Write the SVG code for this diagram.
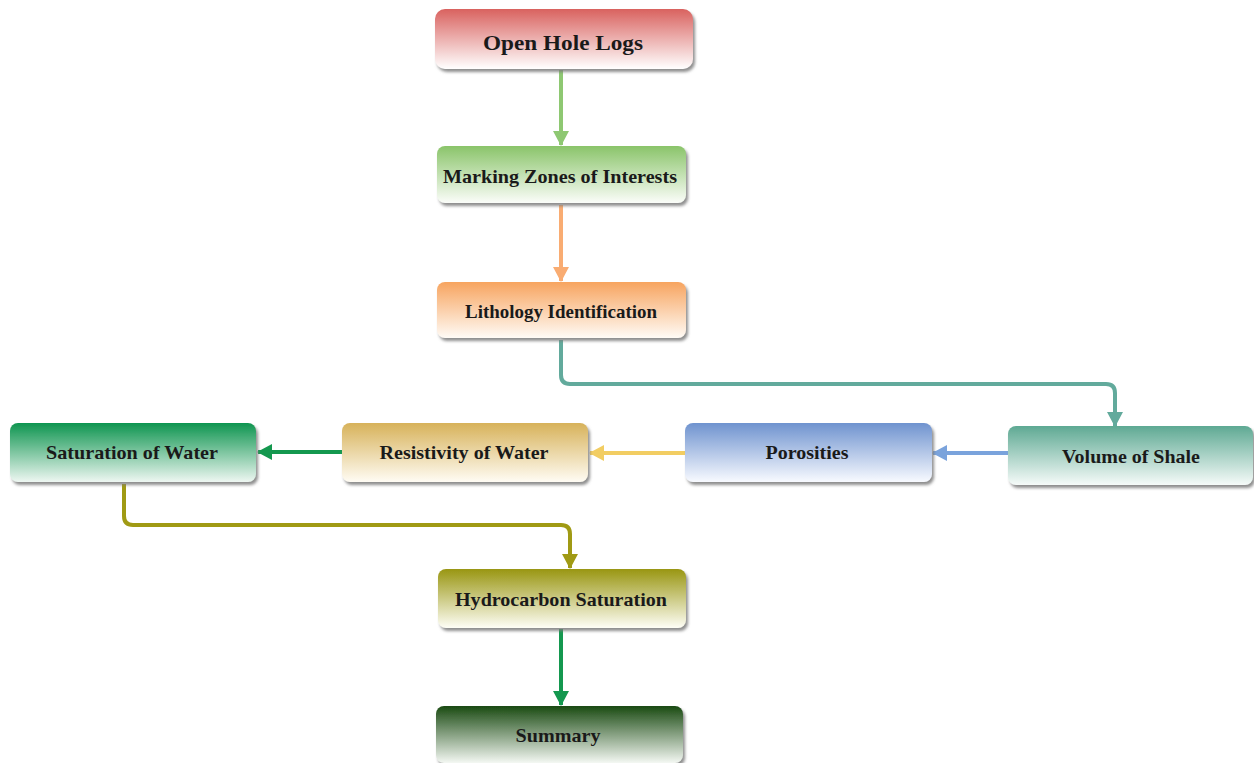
<svg xmlns="http://www.w3.org/2000/svg" width="1254" height="763" viewBox="0 0 1254 763">
  <defs>
    <style>
      .box { stroke: none; filter: url(#shadow); }
      .lbl { font-family: "Liberation Serif", "Times New Roman", serif; font-weight: bold; font-size: 19px; fill: #1a1a1a; text-anchor: middle; dominant-baseline: central; }
      .big { font-size: 22px; }
      .wire { fill: none; stroke-width: 4; stroke-linejoin: round; }
    </style>
    <filter id="shadow" x="-5%" y="-10%" width="115%" height="130%">
      <feDropShadow dx="2" dy="3" stdDeviation="1.4" flood-color="#7a7a7a" flood-opacity="0.85"/>
    </filter>
    <linearGradient id="gRed" x1="0" y1="0" x2="0" y2="1">
      <stop offset="0" stop-color="#d9625f"/><stop offset="1" stop-color="#ffffff"/>
    </linearGradient>
    <linearGradient id="gLime" x1="0" y1="0" x2="0" y2="1">
      <stop offset="0" stop-color="#8ac46a"/><stop offset="1" stop-color="#fbfdf9"/>
    </linearGradient>
    <linearGradient id="gOrange" x1="0" y1="0" x2="0" y2="1">
      <stop offset="0" stop-color="#f7a45f"/><stop offset="1" stop-color="#fffbf6"/>
    </linearGradient>
    <linearGradient id="gGreen" x1="0" y1="0" x2="0" y2="1">
      <stop offset="0" stop-color="#0f9550"/><stop offset="1" stop-color="#eef7f2"/>
    </linearGradient>
    <linearGradient id="gGold" x1="0" y1="0" x2="0" y2="1">
      <stop offset="0" stop-color="#d7b25a"/><stop offset="1" stop-color="#fffcf4"/>
    </linearGradient>
    <linearGradient id="gBlue" x1="0" y1="0" x2="0" y2="1">
      <stop offset="0" stop-color="#6f93cf"/><stop offset="1" stop-color="#f8faff"/>
    </linearGradient>
    <linearGradient id="gTeal" x1="0" y1="0" x2="0" y2="1">
      <stop offset="0" stop-color="#5ea993"/><stop offset="1" stop-color="#f6fbf9"/>
    </linearGradient>
    <linearGradient id="gOlive" x1="0" y1="0" x2="0" y2="1">
      <stop offset="0" stop-color="#999612"/><stop offset="1" stop-color="#fefef6"/>
    </linearGradient>
    <linearGradient id="gForest" x1="0" y1="0" x2="0" y2="1">
      <stop offset="0" stop-color="#1a4a12"/><stop offset="1" stop-color="#f4f8f3"/>
    </linearGradient>

    <marker id="aLime" markerUnits="userSpaceOnUse" markerWidth="18" markerHeight="18" refX="14" refY="8" orient="auto">
      <path d="M0,0 L15,8 L0,16 z" fill="#8ec872"/>
    </marker>
    <marker id="aOrange" markerUnits="userSpaceOnUse" markerWidth="18" markerHeight="18" refX="14" refY="8" orient="auto">
      <path d="M0,0 L15,8 L0,16 z" fill="#f9ac72"/>
    </marker>
    <marker id="aTeal" markerUnits="userSpaceOnUse" markerWidth="18" markerHeight="18" refX="14" refY="8" orient="auto">
      <path d="M0,0 L15,8 L0,16 z" fill="#62aa9c"/>
    </marker>
    <marker id="aBlue" markerUnits="userSpaceOnUse" markerWidth="18" markerHeight="18" refX="14" refY="8" orient="auto">
      <path d="M0,0 L15,8 L0,16 z" fill="#7aa3dc"/>
    </marker>
    <marker id="aYellow" markerUnits="userSpaceOnUse" markerWidth="18" markerHeight="18" refX="14" refY="8" orient="auto">
      <path d="M0,0 L15,8 L0,16 z" fill="#f2cd62"/>
    </marker>
    <marker id="aGreen" markerUnits="userSpaceOnUse" markerWidth="18" markerHeight="18" refX="14" refY="8" orient="auto">
      <path d="M0,0 L15,8 L0,16 z" fill="#14984f"/>
    </marker>
    <marker id="aOlive" markerUnits="userSpaceOnUse" markerWidth="18" markerHeight="18" refX="14" refY="8" orient="auto">
      <path d="M0,0 L15,8 L0,16 z" fill="#a09a14"/>
    </marker>
  </defs>

  <rect width="1254" height="763" fill="#ffffff"/>

  <!-- connectors -->
  <g id="connectors">
    <path class="wire" stroke="#8ec872" d="M561,70 L561,145" marker-end="url(#aLime)"/>
    <path class="wire" stroke="#f9ac72" d="M561,205 L561,281" marker-end="url(#aOrange)"/>
    <path class="wire" stroke="#62aa9c" d="M561,340 L561,375 Q561,384 570,384 L1106,384 Q1115,384 1115,393 L1115,426" marker-end="url(#aTeal)"/>
    <path class="wire" stroke="#7aa3dc" d="M1008,453 L933,453" marker-end="url(#aBlue)"/>
    <path class="wire" stroke="#f2cd62" d="M685,453 L590,453" marker-end="url(#aYellow)"/>
    <path class="wire" stroke="#14984f" d="M342,452 L258,452" marker-end="url(#aGreen)"/>
    <path class="wire" stroke="#a09a14" d="M124,484 L124,516 Q124,525 133,525 L561,525 Q570,525 570,534 L570,568" marker-end="url(#aOlive)"/>
    <path class="wire" stroke="#14984f" d="M561,629 L561,705" marker-end="url(#aGreen)"/>
  </g>

  <!-- nodes -->
  <g id="open-hole-logs">
    <rect class="box" x="435" y="9" width="258" height="60" rx="10" fill="url(#gRed)" filter="none"/>
    <text class="lbl big" x="563" y="42" textLength="160" lengthAdjust="spacingAndGlyphs">Open Hole Logs</text>
  </g>
  <g id="marking-zones">
    <rect class="box" x="437" y="146" width="249" height="57" rx="8" fill="url(#gLime)"/>
    <text class="lbl" x="560" y="176" textLength="234" lengthAdjust="spacingAndGlyphs">Marking Zones of Interests</text>
  </g>
  <g id="lithology">
    <rect class="box" x="437" y="282" width="249" height="56" rx="8" fill="url(#gOrange)"/>
    <text class="lbl" x="561" y="311" textLength="192" lengthAdjust="spacingAndGlyphs">Lithology Identification</text>
  </g>
  <g id="saturation-water">
    <rect class="box" x="10" y="423" width="246" height="59" rx="8" fill="url(#gGreen)"/>
    <text class="lbl" x="132" y="452" textLength="172" lengthAdjust="spacingAndGlyphs">Saturation of Water</text>
  </g>
  <g id="resistivity-water">
    <rect class="box" x="342" y="423" width="246" height="59" rx="8" fill="url(#gGold)"/>
    <text class="lbl" x="464" y="452" textLength="169" lengthAdjust="spacingAndGlyphs">Resistivity of Water</text>
  </g>
  <g id="porosities">
    <rect class="box" x="685" y="423" width="247" height="59" rx="8" fill="url(#gBlue)"/>
    <text class="lbl" x="807" y="452" textLength="83" lengthAdjust="spacingAndGlyphs">Porosities</text>
  </g>
  <g id="volume-shale">
    <rect class="box" x="1008" y="426" width="245" height="59" rx="8" fill="url(#gTeal)"/>
    <text class="lbl" x="1131" y="456" textLength="138" lengthAdjust="spacingAndGlyphs">Volume of Shale</text>
  </g>
  <g id="hydrocarbon-saturation">
    <rect class="box" x="438" y="569" width="248" height="59" rx="8" fill="url(#gOlive)"/>
    <text class="lbl" x="561" y="599" textLength="212" lengthAdjust="spacingAndGlyphs">Hydrocarbon Saturation</text>
  </g>
  <g id="summary">
    <rect class="box" x="436" y="706" width="247" height="57" rx="8" fill="url(#gForest)"/>
    <text class="lbl" x="558" y="735" textLength="85" lengthAdjust="spacingAndGlyphs">Summary</text>
  </g>
</svg>
